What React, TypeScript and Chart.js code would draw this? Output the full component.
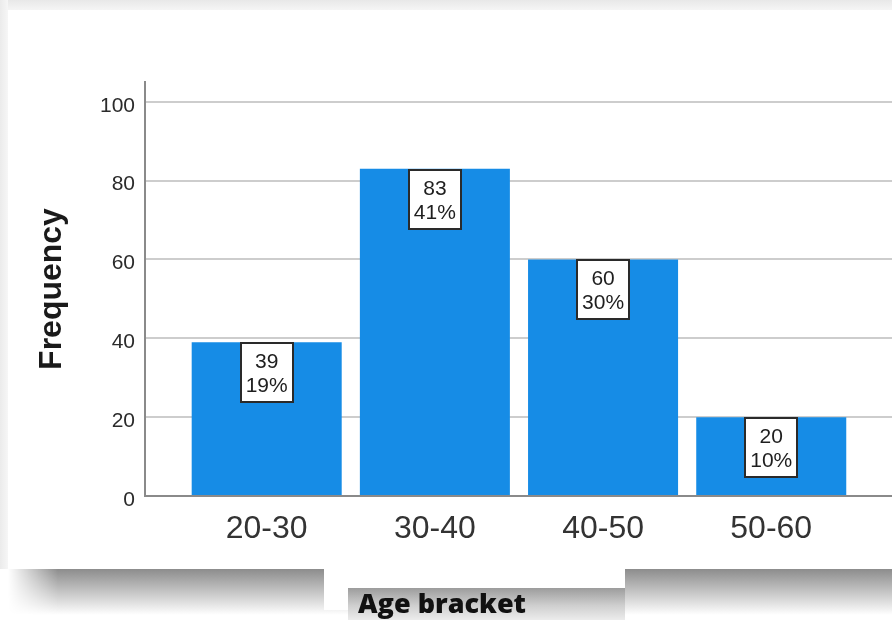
import React, { useEffect, useRef } from "react";
import { Chart, registerables } from "chart.js";

Chart.register(...registerables);

const categories = ["20-30", "30-40", "40-50", "50-60"];
const frequencies = [39, 83, 60, 20];
const yTickValues = [0, 20, 40, 60, 80, 100];
const yAxisTitle = "Frequency";
const xAxisTitle = "Age bracket";

const BAR_COLOR = "#168ce6";
const SANS = "'Liberation Sans', Arial, sans-serif";

const valueBoxPlugin = {
  id: "valueBoxes",
  afterDatasetsDraw(chart: any) {
    const ctx = chart.ctx;
    const meta = chart.getDatasetMeta(0);
    const total = frequencies.reduce((a, b) => a + b, 0);
    ctx.save();
    meta.data.forEach((bar: any, i: number) => {
      const v = frequencies[i];
      const pct = Math.round((v / total) * 100) + "%";
      const w = 54;
      const h = 61;
      const x = Math.round(bar.x - w / 2);
      const y = Math.round(bar.y);
      ctx.fillStyle = "#ffffff";
      ctx.fillRect(x, y, w, h);
      ctx.lineWidth = 2;
      ctx.strokeStyle = "#2a2a2a";
      ctx.strokeRect(x + 1, y + 1, w - 2, h - 2);
      ctx.fillStyle = "#1e1e1e";
      ctx.font = "21px " + SANS;
      ctx.textAlign = "center";
      ctx.textBaseline = "alphabetic";
      ctx.fillText(String(v), bar.x, y + 26);
      ctx.fillText(pct, bar.x, y + 50);
    });
    ctx.restore();
  },
};

export default function App() {
  const ref = useRef<HTMLCanvasElement>(null);

  useEffect(() => {
    if (!ref.current) return;
    const chart = new Chart(ref.current, {
      type: "bar",
      data: {
        datasets: [
          {
            data: frequencies.map((v, i) => ({ x: i, y: v })),
            backgroundColor: BAR_COLOR,
            borderWidth: 0,
            categoryPercentage: 1,
            barPercentage: 0.892,
          },
        ],
      },
      options: {
        responsive: false,
        animation: false,
        layout: { padding: { top: 82, left: 0, right: 0, bottom: 0 } },
        plugins: {
          legend: { display: false },
          tooltip: { enabled: false },
          title: { display: false },
        },
        scales: {
          x: {
            type: "linear",
            offset: false,
            min: -0.7236,
            max: 3.718,
            afterBuildTicks: (s: any) => {
              s.ticks = categories.map((_, i) => ({ value: i }));
            },
            afterFit: (s: any) => {
              s.height = 124;
            },
            grid: { display: false, drawTicks: false, offset: false },
            border: { display: true, color: "#8a8a8a", width: 2 },
            ticks: {
              autoSkip: false,
              maxRotation: 0,
              padding: 14,
              color: "#333333",
              font: { family: SANS, size: 32 },
              callback: (v: any) => categories[v] ?? "",
            },
          },
          y: {
            min: 0,
            max: 105,
            afterBuildTicks: (s: any) => {
              s.ticks = yTickValues.map((v) => ({ value: v }));
            },
            afterFit: (s: any) => {
              s.width = 145;
            },
            grid: { color: "#cdcdcd", lineWidth: 2, drawTicks: false },
            border: { display: true, color: "#8a8a8a", width: 2 },
            ticks: {
              padding: 10,
              labelOffset: 4,
              color: "#2b2b2b",
              font: { family: SANS, size: 21 },
            },
            title: {
              display: true,
              text: yAxisTitle,
              color: "#1a1a1a",
              font: { family: SANS, size: 32, weight: "bold" },
              padding: { top: 33, bottom: 0 },
            },
          },
        },
      },
      plugins: [valueBoxPlugin],
    } as any);
    return () => chart.destroy();
  }, []);

  return (
    <div
      style={{
        position: "fixed",
        left: 0,
        top: 0,
        width: 892,
        height: 620,
        overflow: "hidden",
        background: "#ffffff",
      }}
    >
      <div
        style={{
          position: "absolute",
          left: 0,
          top: 0,
          width: 892,
          height: 10,
          background: "linear-gradient(to bottom, #e8e8e8, #f5f5f5)",
        }}
      />
      <div
        style={{
          position: "absolute",
          left: 0,
          top: 0,
          width: 8,
          height: 569,
          background: "linear-gradient(to right, #ebebeb, #f6f6f6)",
        }}
      />
      <div
        style={{
          position: "absolute",
          left: 8,
          top: 10,
          width: 884,
          height: 559,
          background: "#ffffff",
        }}
      />
      <div
        style={{
          position: "absolute",
          left: 8,
          top: 569,
          width: 884,
          height: 46,
          background:
            "linear-gradient(to bottom, #8c8c8c 0%, #b4b4b4 35%, #e2e2e2 75%, #ffffff 100%)",
          WebkitMaskImage: "linear-gradient(to right, transparent 0px, black 50px)",
          maskImage: "linear-gradient(to right, transparent 0px, black 50px)",
        } as any}
      />
      <div
        style={{
          position: "absolute",
          left: 324,
          top: 569,
          width: 301,
          height: 41,
          background: "#ffffff",
        }}
      />
      <div
        style={{
          position: "absolute",
          left: 348,
          top: 588,
          width: 277,
          height: 32,
          background: "linear-gradient(to bottom, #9c9c9c 0%, #cfcfcf 55%, #ececec 100%)",
        }}
      />
      <canvas
        ref={ref}
        width={892}
        height={620}
        style={{ position: "absolute", left: 0, top: 0, width: 892, height: 620 }}
      />
      <span
        style={{
          position: "absolute",
          left: 358,
          top: 589,
          fontFamily: "'Open Sans', 'Noto Sans', sans-serif",
          fontWeight: 800,
          fontSize: 27,
          lineHeight: 1,
          color: "#111111",
          whiteSpace: "nowrap",
        }}
      >
        {xAxisTitle}
      </span>
    </div>
  );
}
